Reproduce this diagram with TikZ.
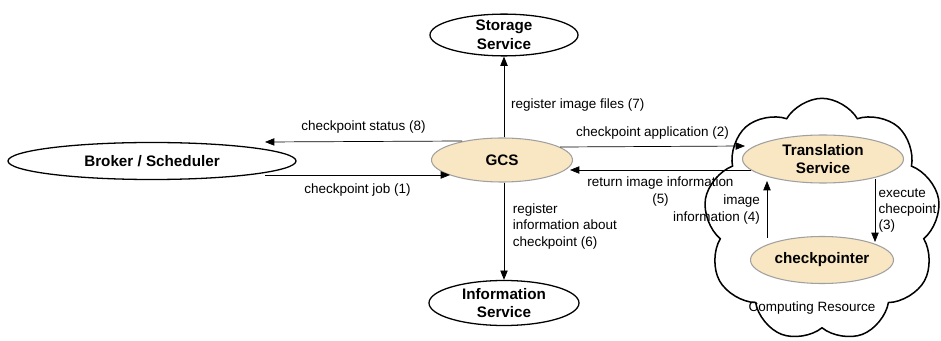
\documentclass[tikz,border=0pt]{standalone}
\usepackage{fontspec}
\setmainfont{Liberation Sans}
\usepackage{xcolor}
\usetikzlibrary{shapes.geometric, shapes.symbols, arrows.meta, calc}

\definecolor{svcfill}{HTML}{F9E6C2}
\definecolor{svcline}{HTML}{A0A0A0}

\tikzset{
    plain/.style={draw, ellipse, line width=1.1pt, inner sep=0pt, align=center, font=\fontsize{13}{16}\selectfont\bfseries},
    service/.style={plain, draw=svcline, line width=0.9pt, fill=svcfill},
    lbl/.style={font=\fontsize{11.5}{14}\selectfont, inner sep=0pt},
}

\begin{document}
\begin{tikzpicture}[x=0.03cm, y=-0.03cm, >={Triangle[length=2.8mm,width=2.2mm]}]
        \useasboundingbox (0,0) rectangle (941,341);

        % Cloud
        \node (res) [draw, line width=1.3pt, cloud, cloud puffs=9, cloud puff arc=120, aspect=1, minimum width=7.1cm, minimum height=7.3cm] at (822,220) {};
        \node (reslbl) [lbl] at (812,308) {Computing Resource};

        % Nodes
        \node (storage) [plain, minimum width=4.44cm, minimum height=1.23cm] at (504,35) {Storage\\Service};
        \node (broker) [plain, minimum width=8.64cm, minimum height=1.11cm] at (152,161) {Broker / Scheduler};
        \node (gcs) [service, minimum width=4.23cm, minimum height=1.32cm] at (502,160) {GCS};
        \node (info) [plain, minimum width=4.5cm, minimum height=1.35cm] at (504,303) {Information\\Service};
        \node (trans) [service, minimum width=4.83cm, minimum height=1.44cm] at (823,159) {Translation\\Service};
        \node (ckpt) [service, minimum width=4.29cm, minimum height=1.41cm] at (822,260) {checkpointer};

        % Arrows
        \draw[->, thick] (gcs.north -| storage.south) -- node[lbl, right=0.2cm, pos=0.4] {register image files (7)} (storage.south);
        \draw[->, thick] (gcs.south -| info.north) -- node[lbl, right=0.25cm, align=left, pos=0.45] {register\\information about\\checkpoint (6)} (info.north);

        \draw[->, semithick] ($(gcs.center)+(-40,-19)$) -- node[lbl, above=0.25cm] {checkpoint status (8)} ($(broker.center)+(113,-19)$);
        \draw[->, semithick] ($(broker.center)+(113,14)$) -- node[lbl, below=0.25cm] {checkpoint job (1)} ($(gcs.center)+(-52,15)$);

        \draw[->, semithick] ($(gcs.center)+(58,-13)$) -- node[lbl, above=0.2cm] {checkpoint application (2)} ($(trans.center)+(-78,-13)$);
        \draw[->, semithick] ($(trans.center)+(-72,11)$) -- node[lbl, below=0.2cm, align=center] {return image information\\(5)} ($(gcs.center)+(68,10)$);

        \draw[->, semithick] ($(ckpt.center)+(-55,-22)$) -- node[lbl, left=0.2cm, align=right] {image\\information (4)} ($(trans.center)+(-56,22)$);
        \draw[->, semithick] ($(trans.center)+(52,20)$) -- node[lbl, right=0.1cm, align=left] {execute\\checpoint\\(3)} ($(ckpt.center)+(53,-18)$);

    \end{tikzpicture}
\end{document}
